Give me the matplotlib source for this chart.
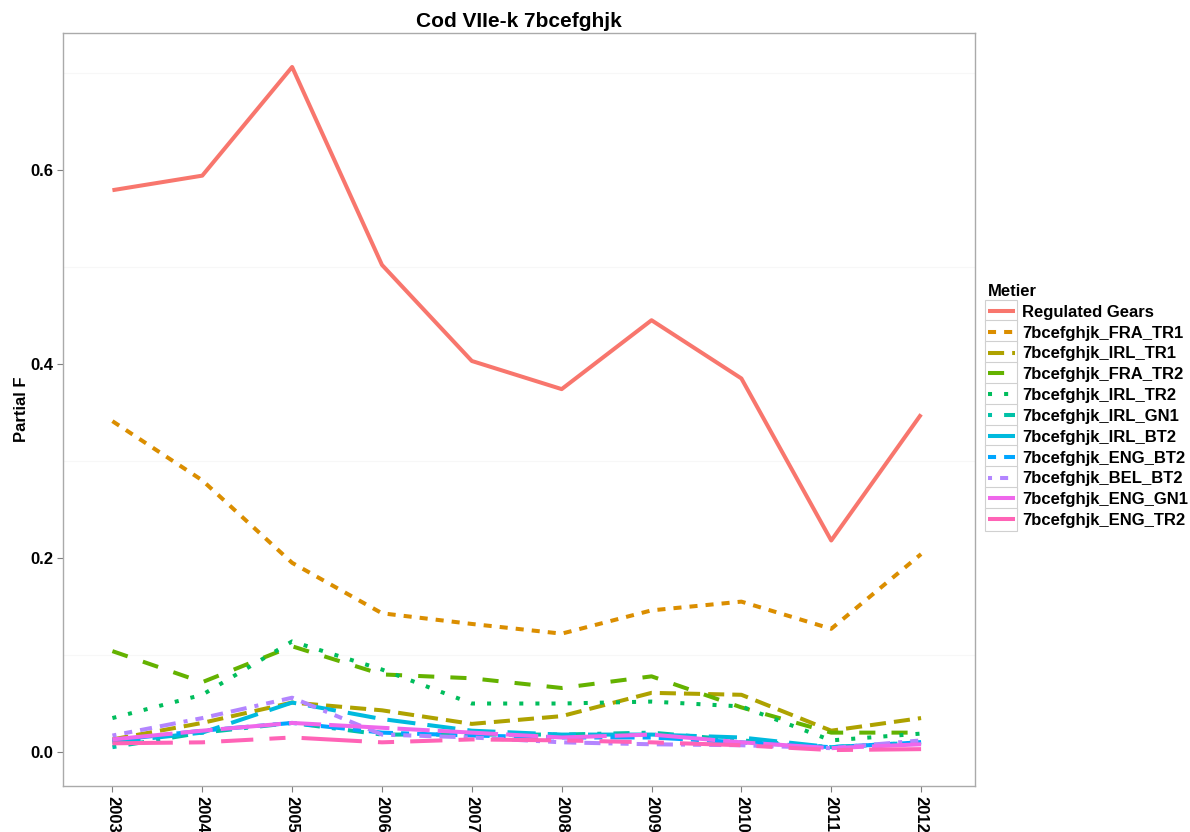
import matplotlib
matplotlib.use("Agg")
import numpy as np
import matplotlib.pyplot as plt
from matplotlib.legend_handler import HandlerLine2D
from matplotlib.patches import Rectangle

plt.rcParams["font.family"] = ["Liberation Sans", "DejaVu Sans"]
plt.rcParams["font.weight"] = "bold"

years = [2003, 2004, 2005, 2006, 2007, 2008, 2009, 2010, 2011, 2012]

metiers = ["Regulated Gears", "7bcefghjk_FRA_TR1", "7bcefghjk_IRL_TR1",
           "7bcefghjk_FRA_TR2", "7bcefghjk_IRL_TR2", "7bcefghjk_IRL_GN1",
           "7bcefghjk_IRL_BT2", "7bcefghjk_ENG_BT2", "7bcefghjk_BEL_BT2",
           "7bcefghjk_ENG_GN1", "7bcefghjk_ENG_TR2"]

regulated = [0.579, 0.594, 0.706, 0.502, 0.403, 0.374, 0.445, 0.385, 0.218, 0.348]
fra_tr1 = [0.341, 0.280, 0.195, 0.143, 0.132, 0.122, 0.146, 0.155, 0.127, 0.204]
irl_tr1 = [0.013, 0.030, 0.051, 0.043, 0.029, 0.037, 0.061, 0.059, 0.022, 0.035]
fra_tr2 = [0.104, 0.072, 0.109, 0.080, 0.076, 0.066, 0.078, 0.046, 0.020, 0.020]
irl_tr2 = [0.035, 0.059, 0.114, 0.085, 0.050, 0.050, 0.052, 0.047, 0.012, 0.019]
irl_gn1 = [0.005, 0.020, 0.030, 0.018, 0.018, 0.018, 0.020, 0.012, 0.005, 0.010]
irl_bt2 = [0.010, 0.020, 0.051, 0.034, 0.022, 0.018, 0.018, 0.015, 0.005, 0.010]
eng_bt2 = [0.012, 0.022, 0.030, 0.020, 0.017, 0.015, 0.015, 0.010, 0.005, 0.010]
bel_bt2 = [0.017, 0.035, 0.056, 0.018, 0.015, 0.010, 0.008, 0.007, 0.004, 0.012]
eng_gn1 = [0.013, 0.022, 0.030, 0.025, 0.020, 0.015, 0.018, 0.010, 0.004, 0.008]
eng_tr2 = [0.009, 0.010, 0.015, 0.010, 0.013, 0.012, 0.010, 0.007, 0.002, 0.003]

series = [regulated, fra_tr1, irl_tr1, fra_tr2, irl_tr2, irl_gn1,
          irl_bt2, eng_bt2, bel_bt2, eng_gn1, eng_tr2]

# ggplot default hue palette and linetype sequence
colors = ["#F8766D", "#DB8E00", "#AEA200", "#64B200", "#00BD5C", "#00C1A7",
          "#00BADE", "#00A6FF", "#B385FF", "#EF67EB", "#FF63B6"]
dashes = [None, (2, 2), (4, 2), (4, 4), (1, 3), (1, 3, 4, 3), (7, 3),
          (2, 2, 6, 2), (1, 2, 2, 2, 3, 2, 4, 2), (15, 2, 8, 2),
          (15, 4, 4, 4, 8, 4, 4, 4)]


class BoxedLine(HandlerLine2D):
    # legend key with a light grey box behind the line, like ggplot keys
    def create_artists(self, legend, orig_handle, xdescent, ydescent,
                       width, height, fontsize, trans):
        box = Rectangle((-xdescent - 2, -ydescent - 4), width + 4, height + 8,
                        facecolor="white", edgecolor="#D0D0D0", lw=0.8,
                        transform=trans)
        arts = super().create_artists(legend, orig_handle, xdescent, ydescent,
                                      width, height, fontsize, trans)
        return [box] + arts


fig = plt.figure(figsize=(11.9, 8.32), dpi=100)
ax = fig.add_axes([63 / 1190, 1 - 786 / 832, (975 - 63) / 1190, (786 - 33) / 832])

lw = 2.9
handles = []
for name, vals, c, d in zip(metiers, series, colors, dashes):
    ln, = ax.plot(years, vals, color=c, lw=lw, solid_capstyle="butt",
                  dash_capstyle="butt", label=name)
    if d is not None:
        ln.set_dashes(d)
    handles.append(ln)

ax.set_xlim(2002.45, 2012.6)
ax.set_ylim(-0.035, 0.741)
ax.set_xticks(years)
ax.set_xticklabels([str(y) for y in years], rotation=270, fontsize=12,
                   fontweight="bold")
ax.set_yticks([0.0, 0.2, 0.4, 0.6])
ax.set_yticklabels(["0.0", "0.2", "0.4", "0.6"], fontsize=12, fontweight="bold")
for y in [0.1, 0.3, 0.5, 0.7]:
    ax.axhline(y, color="#F7F7F7", lw=0.8, zorder=0)
ax.tick_params(colors="black", length=4, width=0.8, color="#7F7F7F", pad=3)
for s in ax.spines.values():
    s.set_color("#AAAAAA")
    s.set_linewidth(1.0)

ax.set_title("Cod VIIe-k 7bcefghjk", fontsize=15, fontweight="bold", pad=4)
ax.set_ylabel("Partial F", fontsize=12, fontweight="bold", labelpad=1)

leg = fig.legend(handles=handles, loc="upper left",
                 bbox_to_anchor=(988 / 1190, 1 - 284 / 832),
                 title="Metier", frameon=False, fontsize=12,
                 title_fontproperties={"weight": "bold", "size": 12},
                 handlelength=1.6, handletextpad=0.45, labelspacing=0.35,
                 borderaxespad=0, borderpad=0,
                 handler_map={h: BoxedLine() for h in handles})
leg._legend_box.align = "left"

fig.savefig("out.png", dpi=100)
